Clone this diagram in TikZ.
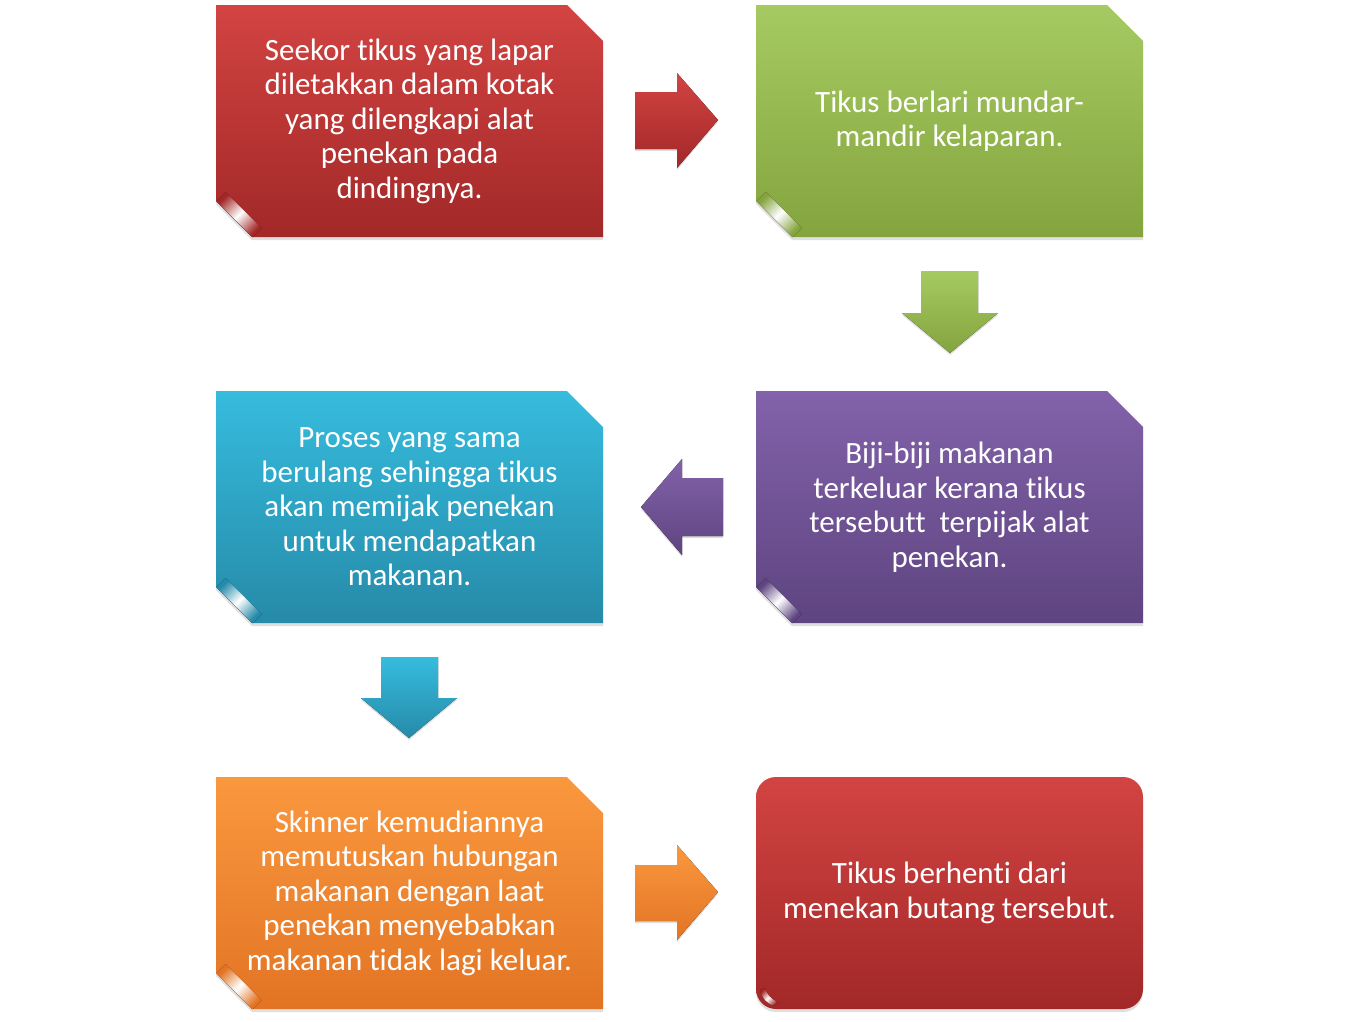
\documentclass[tikz,border=0pt]{standalone}
\usepackage{fontspec}
\setmainfont{Carlito}[Ligatures=NoCommon]
\usetikzlibrary{shapes.misc,shadows}
\definecolor{redT}{RGB}{210,68,66}
\definecolor{redB}{RGB}{162,40,40}
\definecolor{grnT}{RGB}{166,202,98}
\definecolor{grnB}{RGB}{132,164,62}
\definecolor{bluT}{RGB}{54,188,222}
\definecolor{bluB}{RGB}{38,138,168}
\definecolor{purT}{RGB}{130,98,170}
\definecolor{purB}{RGB}{94,68,128}
\definecolor{orgT}{RGB}{250,152,62}
\definecolor{orgB}{RGB}{226,116,36}
\tikzset{
  flowbox/.style={chamfered rectangle,
    chamfered rectangle corners={north east,south west},
    chamfered rectangle xsep=18pt, chamfered rectangle ysep=18pt,
    minimum width=387pt, minimum height=232pt, inner sep=0pt,
    text=white, font=\fontsize{31}{34.5}\selectfont, align=center,
    drop shadow={shadow xshift=0pt, shadow yshift=-3pt, opacity=0.25}},
  endbox/.style={rectangle, rounded corners=20pt,
    minimum width=387pt, minimum height=232pt, inner sep=0pt,
    text=white, font=\fontsize{31}{34.5}\selectfont, align=center,
    drop shadow={shadow xshift=0pt, shadow yshift=-3pt, opacity=0.25}},
  blockarrow/.style={drop shadow={shadow xshift=0pt, shadow yshift=-2pt, opacity=0.25}},
}
\newcommand\boxcurl[3]{%
  \begin{scope}[shift={(#1,#2)}]
    \fill[left color=#3, right color=#3, middle color=white, shading angle=45]
      (-193,80) -- (-157,116) -- (-148,107) -- (-184,71) -- cycle;
  \end{scope}}
\begin{document}
\begin{tikzpicture}[x=1pt,y=-1pt]
\useasboundingbox (0,0) rectangle (1360,1021);
% boxes
\node[flowbox, top color=redT, bottom color=redB] (b1) at (409.5,121)
  {Seekor tikus yang lapar\\diletakkan dalam kotak\\yang dilengkapi alat\\penekan pada\\dindingnya.};
\node[flowbox, top color=grnT, bottom color=grnB] (b2) at (949.5,121)
  {Tikus berlari mundar-\\mandir kelaparan.};
\node[flowbox, top color=purT, bottom color=purB] (b3) at (949.5,507)
  {Biji-biji makanan\\terkeluar kerana tikus\\tersebutt\ \ terpijak alat\\penekan.};
\node[flowbox, top color=bluT, bottom color=bluB] (b4) at (409.5,507)
  {Proses yang sama\\berulang sehingga tikus\\akan memijak penekan\\untuk mendapatkan\\makanan.};
\node[flowbox, top color=orgT, bottom color=orgB] (b5) at (409.5,893)
  {Skinner kemudiannya\\memutuskan hubungan\\makanan dengan laat\\penekan menyebabkan\\makanan tidak lagi keluar.};
\node[endbox, top color=redT, bottom color=redB] (b6) at (949.5,893)
  {Tikus berhenti dari\\menekan butang tersebut.};
% curls
\boxcurl{409.5}{121}{redB}
\boxcurl{949.5}{121}{grnB}
\boxcurl{949.5}{507}{purB}
\boxcurl{409.5}{507}{bluB}
\boxcurl{409.5}{893}{orgB}
\fill[left color=redB, right color=redB, middle color=white, shading angle=45]
  (760,990) .. controls (762,998) and (766,1003) .. (774,1006) -- (778,1002) .. controls (771,999) and (767,995) .. (765,988) -- cycle;
% block arrows
\fill[blockarrow, top color=redT, bottom color=redB]
  (635,92) -- (677,92) -- (677,73) -- (718,120) -- (677,168) -- (677,149) -- (635,149) -- cycle;
\fill[blockarrow, top color=grnT, bottom color=grnB]
  (921,271) -- (978,271) -- (978,313) -- (998,313) -- (950,353) -- (902,313) -- (921,313) -- cycle;
\fill[blockarrow, top color=purT, bottom color=purB]
  (723,478) -- (682,478) -- (682,459) -- (641,507) -- (682,555) -- (682,536) -- (723,536) -- cycle;
\fill[blockarrow, top color=bluT, bottom color=bluB]
  (381,657) -- (438,657) -- (438,698) -- (457,698) -- (409,738) -- (361,698) -- (381,698) -- cycle;
\fill[blockarrow, top color=orgT, bottom color=orgB]
  (635,865) -- (677,865) -- (677,845) -- (718,892) -- (677,940) -- (677,921) -- (635,921) -- cycle;
\end{tikzpicture}
\end{document}
